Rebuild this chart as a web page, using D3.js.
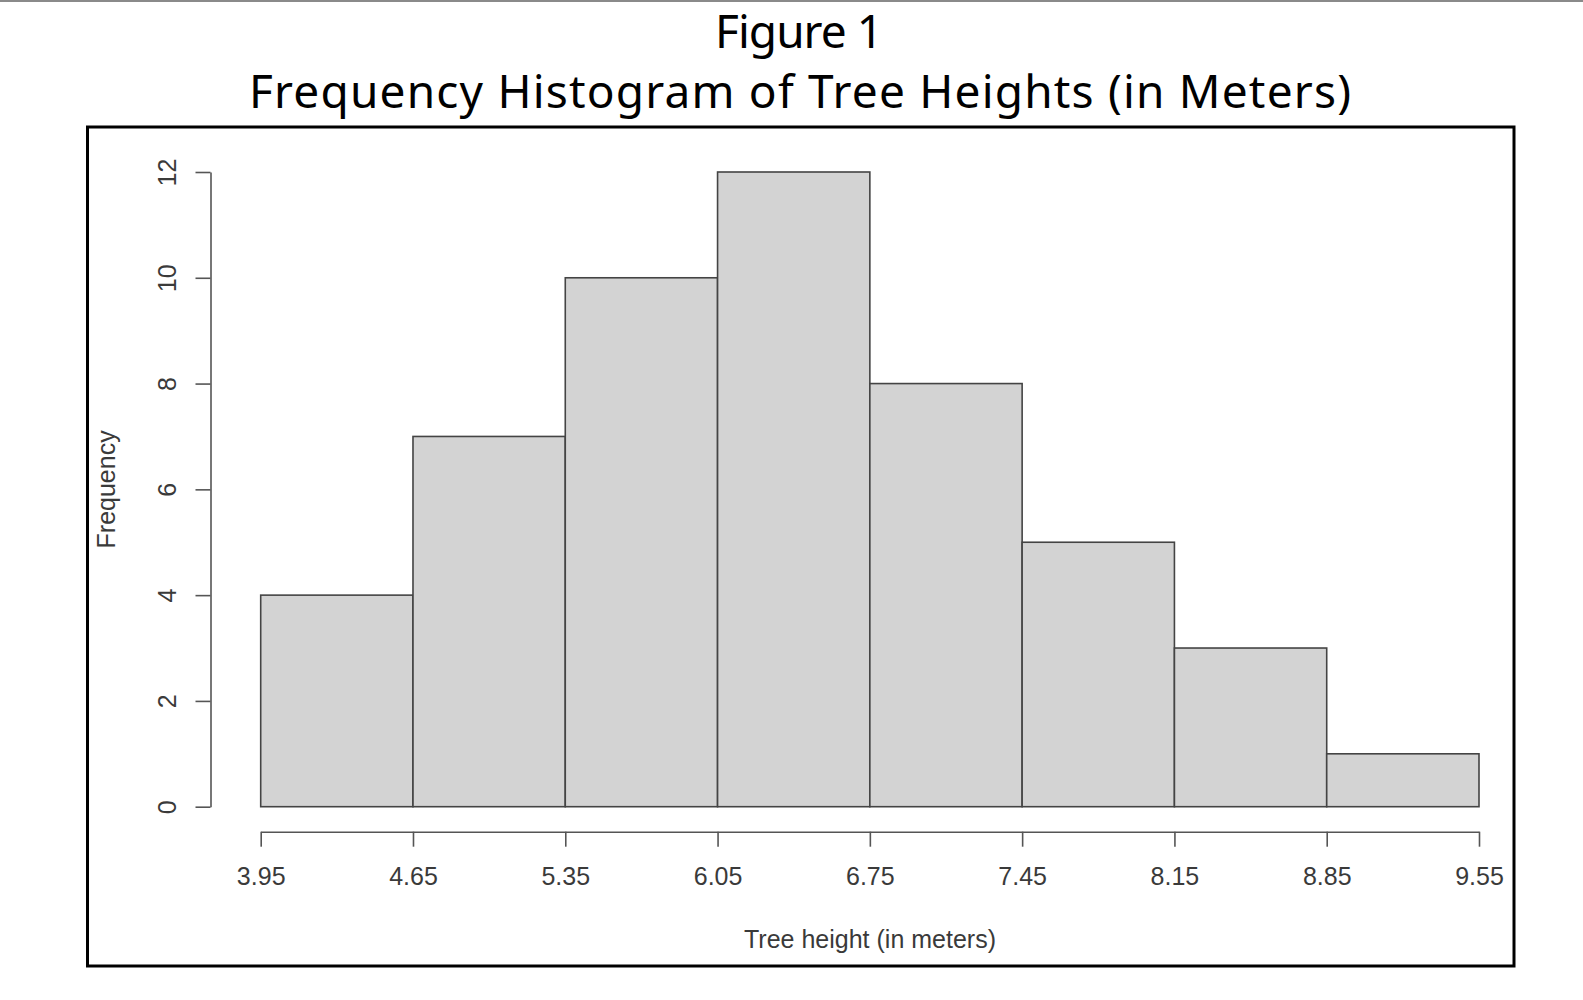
<!DOCTYPE html>
<html>
<head>
<meta charset="utf-8">
<script src="https://cdn.jsdelivr.net/npm/d3@7"></script>
<style>
  html, body { margin: 0; padding: 0; background: #fff; }
  svg { display: block; }
</style>
</head>
<body>
<svg id="chart" width="1583" height="1000"></svg>
<script>
// ---- data ----
const binEdges = [3.95, 4.65, 5.35, 6.05, 6.75, 7.45, 8.15, 8.85, 9.55];
const frequencies = [4, 7, 10, 12, 8, 5, 3, 1];
const yTicks = [0, 2, 4, 6, 8, 10, 12];
const titleLines = ["Figure 1", "Frequency Histogram of Tree Heights (in Meters)"];
const xLabel = "Tree height (in meters)";
const yLabel = "Frequency";

const bins = frequencies.map((f, i) => ({ x0: binEdges[i], x1: binEdges[i + 1], count: f }));

const svg = d3.select("#chart");
const W = 1583, H = 1000;

svg.append("rect").attr("x", 0).attr("y", 0).attr("width", W).attr("height", H).attr("fill", "#fff");

// top grey rule
svg.append("line").attr("x1", 0).attr("x2", W).attr("y1", 1).attr("y2", 1)
  .attr("stroke", "#8a8a8a").attr("stroke-width", 2);

// titles
const titleFont = "'Noto Sans', 'Open Sans', sans-serif";
svg.append("text").attr("x", 799).attr("y", 48)
  .attr("text-anchor", "middle").attr("font-family", titleFont).attr("font-size", 46)
  .attr("fill", "#000").attr("textLength", 168).text(titleLines[0]);
svg.append("text").attr("x", 800).attr("y", 108)
  .attr("text-anchor", "middle").attr("font-family", titleFont).attr("font-size", 46)
  .attr("fill", "#000").attr("textLength", 1102).text(titleLines[1]);

// frame
svg.append("rect").attr("x", 87.5).attr("y", 127).attr("width", 1426.5).attr("height", 839)
  .attr("fill", "none").attr("stroke", "#000").attr("stroke-width", 3);

// scales
const x = d3.scaleLinear().domain([binEdges[0], binEdges[binEdges.length - 1]]).range([260.7, 1479]);
const y = d3.scaleLinear().domain([0, 12]).range([806.7, 172]);

const axisFont = "'Liberation Sans', Arial, sans-serif";

// bars
svg.append("g").selectAll("rect").data(bins).join("rect")
  .attr("x", d => x(d.x0))
  .attr("y", d => y(d.count))
  .attr("width", d => x(d.x1) - x(d.x0))
  .attr("height", d => y(0) - y(d.count))
  .attr("fill", "#d3d3d3")
  .attr("stroke", "#444")
  .attr("stroke-width", 1.6);

// x axis
const gx = svg.append("g").attr("transform", "translate(0,831.7)")
  .call(d3.axisBottom(x).tickValues(binEdges).tickFormat(d3.format(".2f"))
    .tickSizeInner(15).tickSizeOuter(0).tickPadding(21));
gx.selectAll("path, line").attr("stroke", "#555").attr("stroke-width", 1.6);
gx.selectAll("text").attr("font-family", axisFont).attr("font-size", 25).attr("fill", "#3a3a3a");

// y axis
const gy = svg.append("g").attr("transform", "translate(210.5,0)")
  .call(d3.axisLeft(y).tickValues(yTicks).tickFormat(d3.format("d"))
    .tickSizeInner(15).tickSizeOuter(0));
gy.selectAll("path, line").attr("stroke", "#555").attr("stroke-width", 1.6);
gy.selectAll("text")
  .attr("x", null).attr("dy", null)
  .attr("text-anchor", "middle")
  .attr("transform", "translate(-35,0) rotate(-90)")
  .attr("font-family", axisFont).attr("font-size", 25).attr("fill", "#3a3a3a");

// axis titles
svg.append("text").attr("x", 870).attr("y", 948)
  .attr("text-anchor", "middle").attr("font-family", axisFont).attr("font-size", 25)
  .attr("fill", "#3a3a3a").text(xLabel);
svg.append("text").attr("transform", "translate(115,489.4) rotate(-90)")
  .attr("text-anchor", "middle").attr("font-family", axisFont).attr("font-size", 25)
  .attr("fill", "#3a3a3a").text(yLabel);
</script>
</body>
</html>
